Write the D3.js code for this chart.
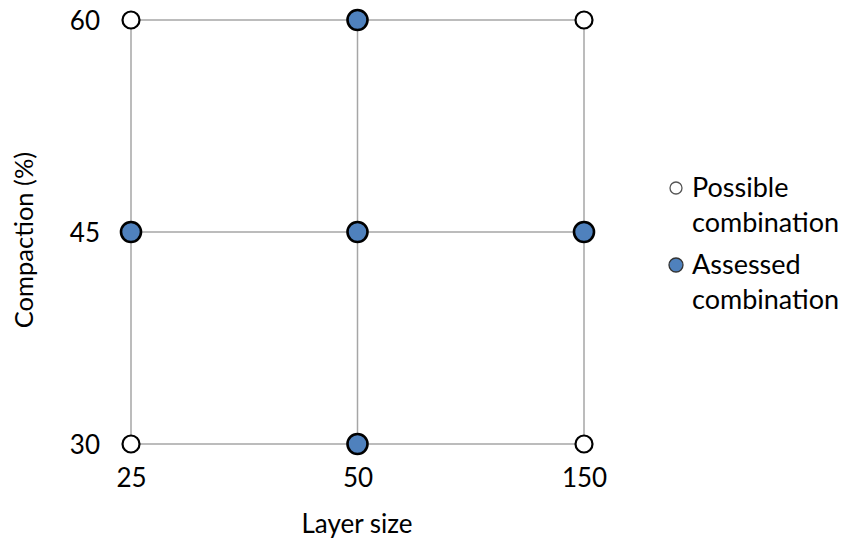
<!DOCTYPE html>
<html><head><meta charset="utf-8">
<script src="https://cdn.jsdelivr.net/npm/d3@7"></script>
<style>body{margin:0;background:#fff}svg{display:block}text{font-family:Lato,"Open Sans",sans-serif;fill:#000}</style>
</head><body>
<svg id="c" width="844" height="543"></svg>
<script>
const layerSizes = ["25", "50", "150"];
const compactionTicks = [30, 45, 60];
const possiblePoints = [
  ["25", 30], ["50", 30], ["150", 30],
  ["25", 45], ["50", 45], ["150", 45],
  ["25", 60], ["50", 60], ["150", 60]
];
const assessedPoints = [["50", 60], ["25", 45], ["50", 45], ["150", 45], ["50", 30]];
const legendLabels = [["Possible", "combination"], ["Assessed", "combination"]];

const svg = d3.select("#c");
const x = d3.scalePoint().domain(layerSizes).range([131, 584]);
const y = d3.scaleLinear().domain([30, 60]).range([444, 20]);
const blue = "#4f81bd";

const grid = svg.append("g").attr("stroke", "#a6a6a6").attr("stroke-width", 1.5);
layerSizes.forEach(d => grid.append("line").attr("x1", x(d)).attr("x2", x(d)).attr("y1", y(30)).attr("y2", y(60)));
compactionTicks.forEach(d => grid.append("line").attr("x1", x("25")).attr("x2", x("150")).attr("y1", y(d)).attr("y2", y(d)));

const xAxis = svg.append("g").attr("transform", `translate(0,${y(30)})`)
  .call(d3.axisBottom(x).tickSize(0).tickPadding(25));
const yAxis = svg.append("g").attr("transform", `translate(${x("25")},0)`)
  .call(d3.axisLeft(y).tickValues(compactionTicks).tickSize(0).tickPadding(31));
[xAxis, yAxis].forEach(a => {
  a.select(".domain").remove();
  a.selectAll("text").attr("font-family", "Lato, 'Open Sans', sans-serif").attr("font-size", 26).attr("fill", "#000");
});
yAxis.selectAll("text").attr("dy", "0.38em");

svg.selectAll(".possible").data(possiblePoints).join("circle")
  .attr("cx", d => x(d[0])).attr("cy", d => y(d[1])).attr("r", 8.5)
  .attr("fill", "#fff").attr("stroke", "#000").attr("stroke-width", 2.2);
svg.selectAll(".assessed").data(assessedPoints).join("circle")
  .attr("cx", d => x(d[0])).attr("cy", d => y(d[1])).attr("r", 10)
  .attr("fill", blue).attr("stroke", "#000").attr("stroke-width", 2.6);

svg.append("text").attr("x", 357).attr("y", 533).attr("text-anchor", "middle")
  .attr("font-size", 26).text("Layer size");
svg.append("text").attr("transform", "translate(33,240) rotate(-90)").attr("text-anchor", "middle")
  .attr("font-size", 25.5).text("Compaction (%)");

const lg = svg.append("g");
const legendY = [188, 265];
legendLabels.forEach((lbl, i) => {
  lg.append("circle").attr("cx", 676).attr("cy", legendY[i]).attr("r", i === 0 ? 6 : 7)
    .attr("fill", i === 0 ? "#fff" : blue).attr("stroke", i === 0 ? "#555" : "#333").attr("stroke-width", 1.3);
  lg.append("text").attr("x", 692).attr("y", legendY[i] + 9).attr("font-size", 27).text(lbl[0]);
  lg.append("text").attr("x", 692).attr("y", legendY[i] + 44).attr("font-size", 27).text(lbl[1]);
});
</script>
</body></html>
